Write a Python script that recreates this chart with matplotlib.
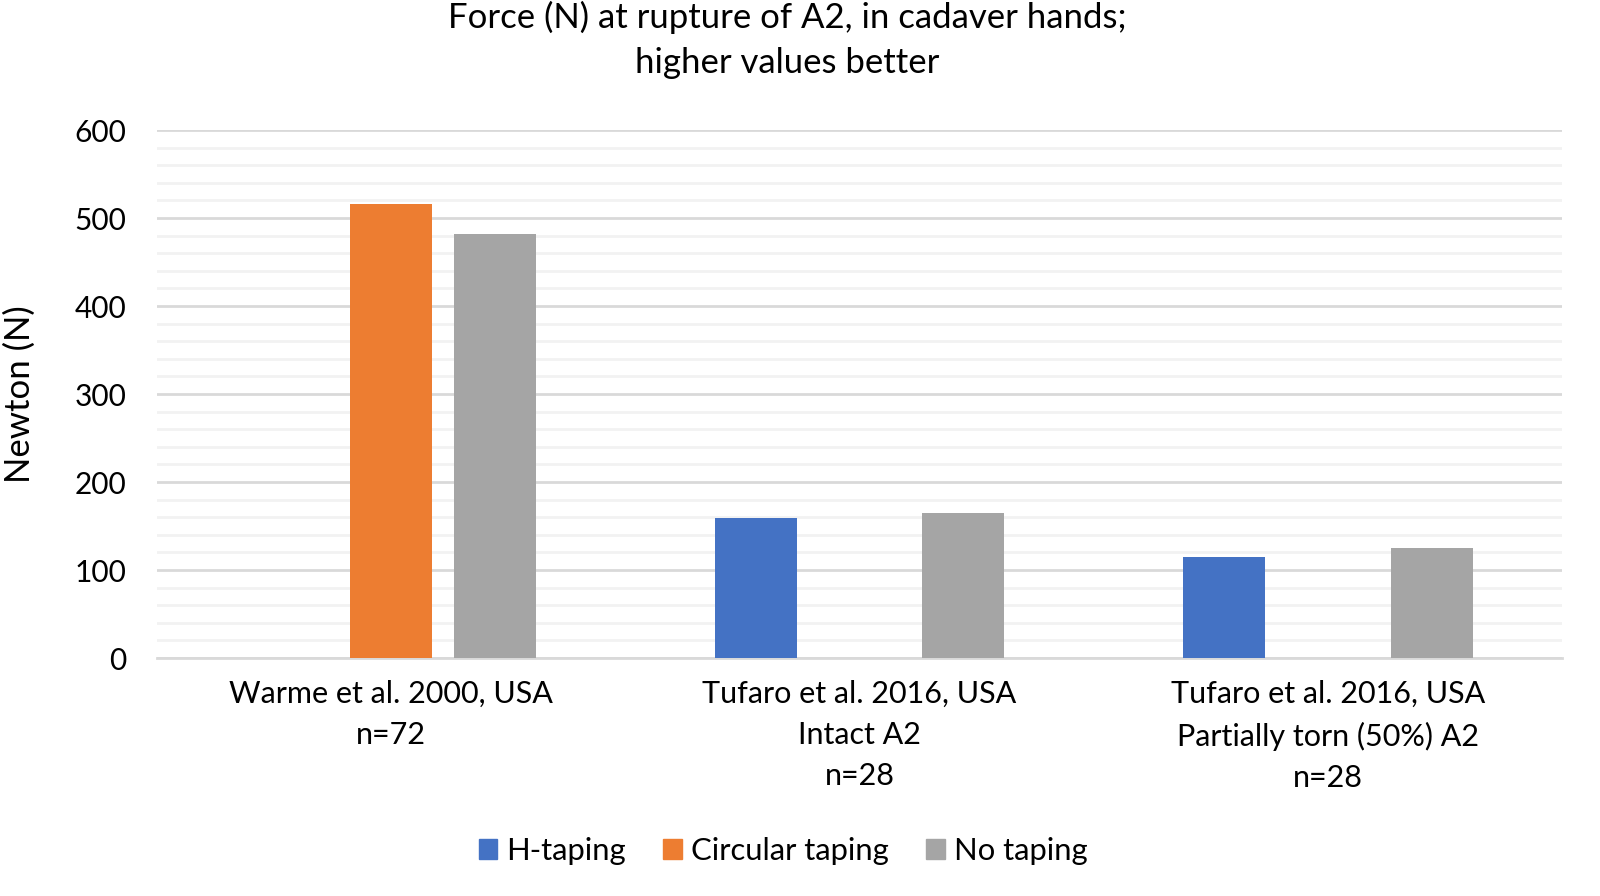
import matplotlib
matplotlib.use("Agg")
import matplotlib.pyplot as plt
import numpy as np
from matplotlib.patches import Patch

categories = ["Warme et al. 2000, USA\nn=72",
              "Tufaro et al. 2016, USA\nIntact A2\nn=28",
              "Tufaro et al. 2016, USA\nPartially torn (50%) A2\nn=28"]
series = ["H-taping", "Circular taping", "No taping"]
h_taping = [np.nan, 159, 115]
circular_taping = [516, np.nan, np.nan]
no_taping = [482, 165, 125]
colors = ["#4472C4", "#ED7D31", "#A5A5A5"]

plt.rcParams['font.family'] = ['Lato', 'DejaVu Sans']

fig = plt.figure(figsize=(16, 8.96), dpi=100)
ax = fig.add_axes([157/1600, 1-658/896, (1562-157)/1600, (658-130)/896])

x = np.arange(len(categories))
w = 0.175
off = 0.222
for i, (vals, c) in enumerate(zip([h_taping, circular_taping, no_taping], colors)):
    ax.bar(x + (i-1)*off, vals, width=w, color=c, zorder=3)

ax.set_ylim(0, 600)
ax.set_xlim(-0.5, 2.5)
ax.set_yticks(np.arange(0, 601, 100))
ax.set_yticks(np.arange(0, 601, 20), minor=True)
ax.grid(axis='y', which='major', color='#D9D9D9', linewidth=2, zorder=0)
ax.grid(axis='y', which='minor', color='#F2F2F2', linewidth=2, zorder=0)
for s in ['top', 'right', 'left']:
    ax.spines[s].set_visible(False)
ax.spines['bottom'].set_color('#D9D9D9')
ax.spines['bottom'].set_linewidth(2)
ax.tick_params(axis='both', which='both', length=0, colors='#000000')
ax.tick_params(axis='y', labelsize=21.5, pad=22)
ax.tick_params(axis='x', labelsize=22, pad=16)
ax.set_xticks(x)
ax.set_xticklabels(categories, linespacing=1.57)
ax.set_ylabel("Newton (N)", fontsize=25)
ax.yaxis.set_label_coords(-0.086, 0.5)

fig.suptitle("Force (N) at rupture of A2, in cadaver hands;\nhigher values better",
             x=787/1600, y=1-1/896, fontsize=25, va='top', linespacing=1.5)

handles = [Patch(color=c) for c in colors]
fig.legend(handles, series, loc='center', bbox_to_anchor=(783/1600, 1-851/896),
           ncol=3, frameon=False, fontsize=22.3, handlelength=0.6, handleheight=0.6,
           handletextpad=0.3, columnspacing=1.2)

fig.savefig("out.png", dpi=100)
